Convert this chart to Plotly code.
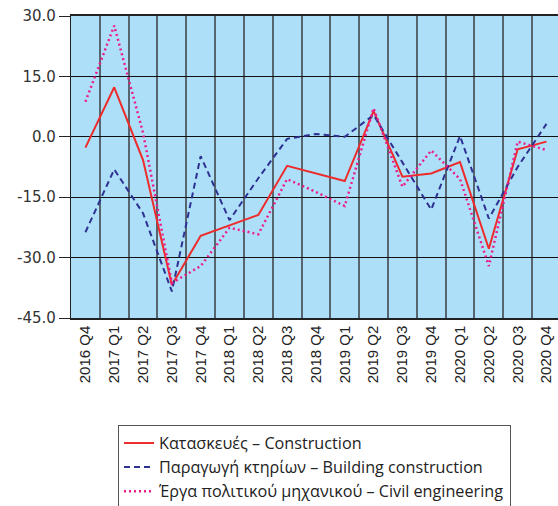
import plotly.graph_objects as go

categories = ["2016 Q4", "2017 Q1", "2017 Q2", "2017 Q3", "2017 Q4", "2018 Q1", "2018 Q2",
              "2018 Q3", "2018 Q4", "2019 Q1", "2019 Q2", "2019 Q3", "2019 Q4", "2020 Q1",
              "2020 Q2", "2020 Q3", "2020 Q4"]
construction = [-2.7, 12.3, -5.8, -36.8, -24.6, -22.0, -19.4, -7.2, -9.1, -11.0, 6.4, -9.9,
                -9.1, -6.3, -27.8, -3.1, -1.2]
building = [-23.7, -8.1, -19.0, -38.4, -4.8, -20.7, -10.3, -0.5, 0.7, 0.0, 5.4, -6.2,
            -18.1, 0.2, -20.3, -7.5, 3.2]
civil = [8.7, 27.6, 1.0, -36.3, -32.1, -22.6, -24.2, -10.5, -13.7, -17.2, 7.1, -12.4,
         -3.4, -10.5, -32.1, -1.2, -3.3]
names = ["Κατασκευές – Construction",
         "Παραγωγή κτηρίων – Building construction",
         "Έργα πολιτικού μηχανικού – Civil engineering"]
y_ticks = [-45, -30, -15, 0, 15, 30]
y_tick_text = [f"{v:.1f}" for v in y_ticks]

fig = go.Figure()
fig.add_trace(go.Scatter(x=categories, y=construction, name=names[0], mode="lines",
                         line=dict(color="#ee2b2b", width=2)))
fig.add_trace(go.Scatter(x=categories, y=building, name=names[1], mode="lines",
                         line=dict(color="#2e3192", width=2, dash="6px,4px")))
fig.add_trace(go.Scatter(x=categories, y=civil, name=names[2], mode="lines",
                         line=dict(color="#ec1c8c", width=2.5, dash="2px,3px")))

fig.update_layout(
    width=558, height=506,
    margin=dict(l=71, r=0, t=16, b=188, autoexpand=False),
    paper_bgcolor="white",
    plot_bgcolor="#ade0f8",
    showlegend=True,
    legend=dict(
        xref="container", yref="container",
        x=118 / 558, y=1 - 425 / 506, xanchor="left", yanchor="top",
        bgcolor="white", bordercolor="#555555", borderwidth=1,
        font=dict(family="Open Sans", size=16.2, color="#222222"),
        tracegroupgap=0,
    ),
    xaxis=dict(
        type="category",
        range=[-0.5, 16.4],
        tickson="boundaries",
        showgrid=True, gridcolor="#56656e", gridwidth=1.5,
        tickangle=-90,
        ticks="outside", ticklen=10, tickcolor="rgba(0,0,0,0)",
        tickfont=dict(family="Liberation Sans", size=15, color="#222222"),
        ticklabeloverflow="allow",
        showline=True, linecolor="#222222", linewidth=1.5, mirror=True,
        automargin=False,
    ),
    yaxis=dict(
        range=[-45, 30],
        tickvals=y_ticks, ticktext=y_tick_text,
        showgrid=True, gridcolor="#111111", gridwidth=1.2,
        zeroline=False,
        ticks="outside", ticklen=11, tickcolor="#222222", tickwidth=1,
        tickfont=dict(family="DejaVu Sans", size=15, color="#333333"),
        ticklabeloverflow="allow",
        showline=True, linecolor="#222222", linewidth=1.2,
        automargin=False,
    ),
)

fig.write_html(
    "out.html",
    config=dict(displayModeBar=False),
    post_script="document.body.style.margin='0';document.body.style.overflow='hidden';",
)
